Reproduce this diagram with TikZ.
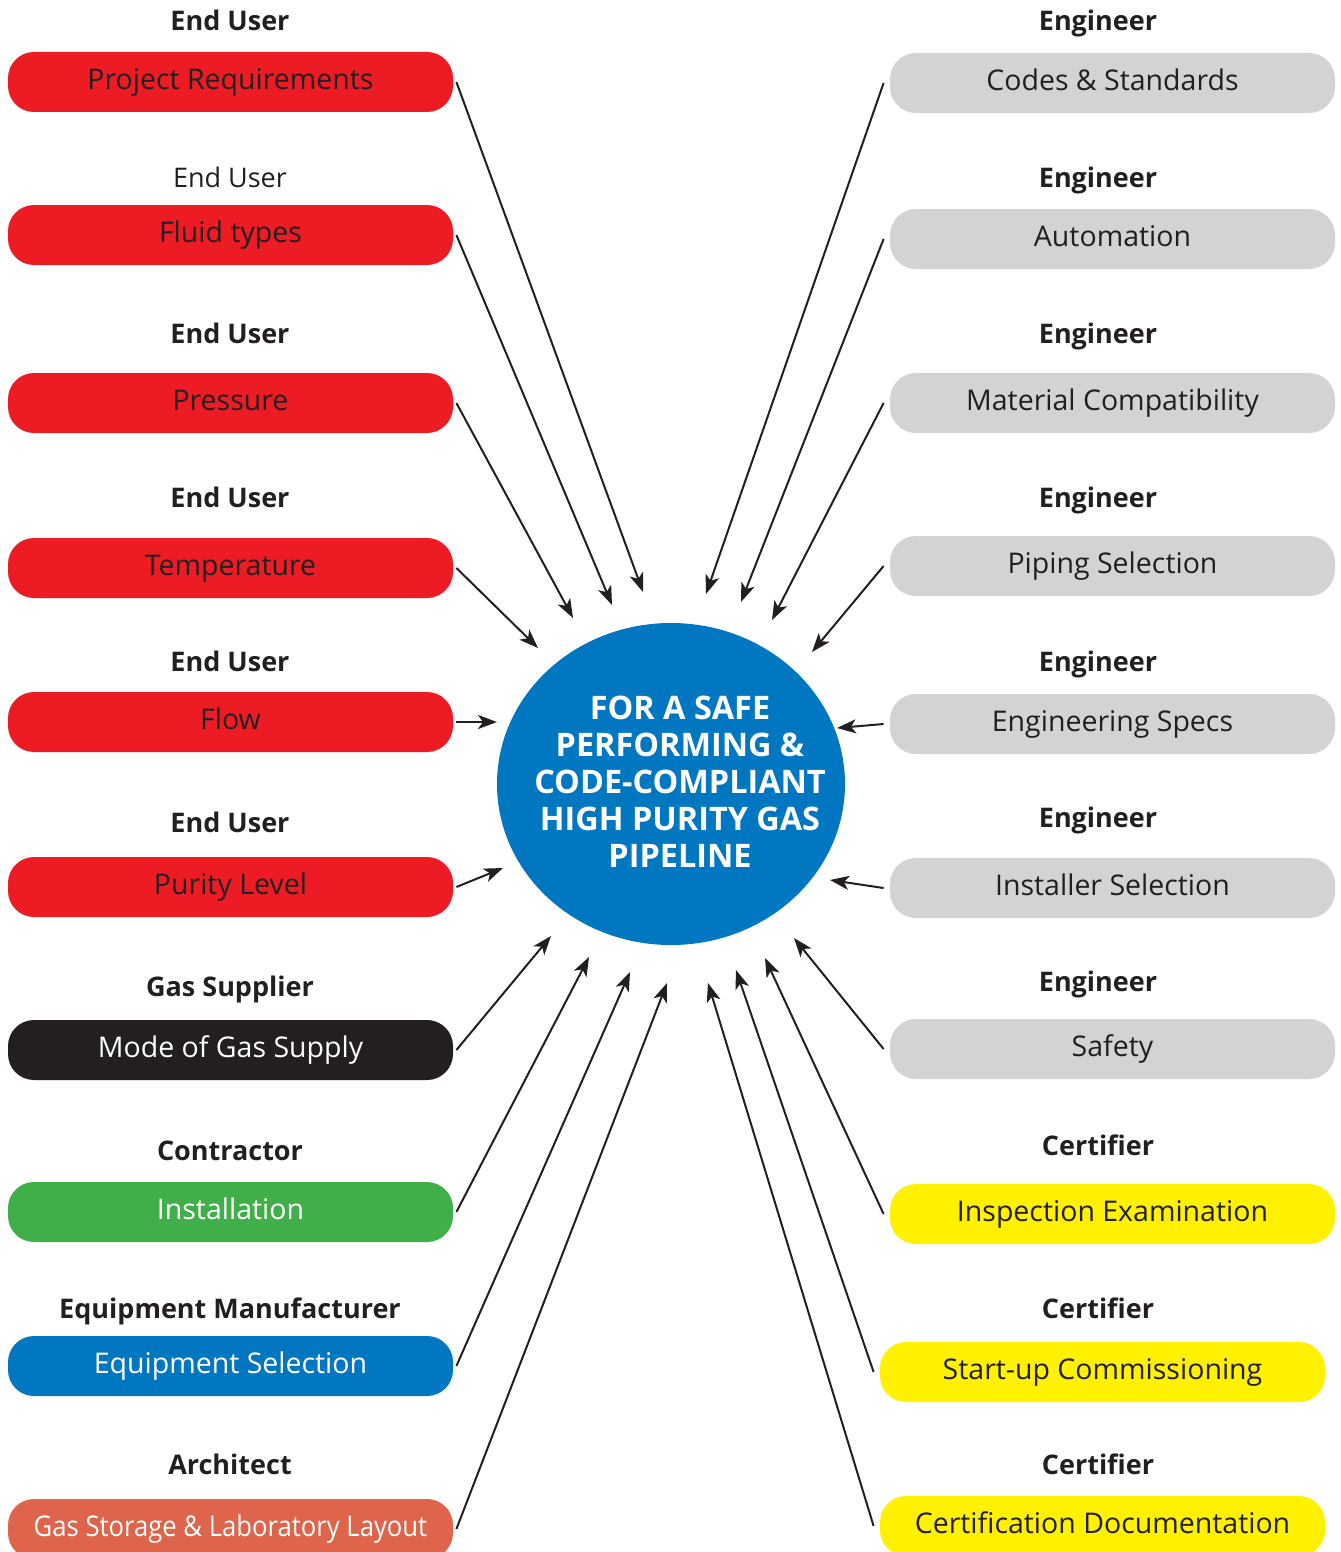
\documentclass[tikz,border=0pt]{standalone}
\usepackage{fontspec}
\setmainfont{Open Sans}
\newfontfamily\narrowfont[FakeStretch=0.9]{Open Sans}
\usetikzlibrary{shapes.geometric,arrows.meta,positioning}

\definecolor{userred}{HTML}{ED1C24}
\definecolor{enggrey}{HTML}{D1D3D4}
\definecolor{inkblack}{HTML}{231F20}
\definecolor{contgreen}{HTML}{40AE49}
\definecolor{pipeblue}{HTML}{0077C0}
\definecolor{archorange}{HTML}{DE644B}
\definecolor{certyellow}{HTML}{FFF100}

\begin{document}
\begin{tikzpicture}[
    x=0.5pt, y=-0.5pt,
    task/.style={rectangle, rounded corners=13pt, minimum width=222.5pt, minimum height=30pt, inner sep=0pt, text height=10.5pt, text depth=3pt, font=\fontsize{14.25}{17}\selectfont, text=inkblack},
    role/.style={text height=10pt, text depth=3pt, font=\bfseries\fontsize{13.5}{16}\selectfont, text=inkblack},
    hub/.style={ellipse, fill=pipeblue, minimum width=174pt, minimum height=161pt, inner sep=0pt},
    arrow/.style={line width=1pt, draw=inkblack, -{Stealth[length=9.5pt, width=7pt, inset=2.5pt]}}
]
\useasboundingbox (0,0) rectangle (1340,1552);

% Centre
\node (hub) [hub] at (671,784) {};
\node (hubtext) [align=center, text=white, font=\bfseries\fontsize{16.2}{18.5}\selectfont] at (680,782)
    {FOR A SAFE\\PERFORMING \&\\CODE-COMPLIANT\\HIGH PURITY GAS\\PIPELINE};

% Left column
\node (req-role) [role] at (230,24) {End User};
\node (req) [task, fill=userred] at (230.5,82) {Project Requirements};
\node (fluid-role) [role, font=\fontsize{13.5}{16}\selectfont] at (230,180) {End User};
\node (fluid) [task, fill=userred] at (230.5,235) {Fluid types};
\node (press-role) [role] at (230,336) {End User};
\node (press) [task, fill=userred] at (230.5,403) {Pressure};
\node (temp-role) [role] at (230,500) {End User};
\node (temp) [task, fill=userred] at (230.5,568) {Temperature};
\node (flow-role) [role] at (230,664) {End User};
\node (flow) [task, fill=userred] at (230.5,722) {Flow};
\node (purity-role) [role] at (230,825) {End User};
\node (purity) [task, fill=userred] at (230.5,887) {Purity Level};
\node (supply-role) [role] at (230,989) {Gas Supplier};
\node (supply) [task, fill=inkblack, text=white] at (230.5,1050) {Mode of Gas Supply};
\node (install-role) [role] at (230,1153) {Contractor};
\node (install) [task, fill=contgreen, text=white] at (230.5,1212) {Installation};
\node (equip-role) [role] at (230,1311) {Equipment Manufacturer};
\node (equip) [task, fill=pipeblue, text=white] at (230.5,1366) {Equipment Selection};
\node (layout-role) [role] at (230,1467) {Architect};
\node (layout) [task, fill=archorange, text=white, font=\narrowfont\fontsize{14.25}{17}\selectfont] at (230.5,1529) {Gas Storage \& Laboratory Layout};

% Right column
\node (codes-role) [role] at (1098,24) {Engineer};
\node (codes) [task, fill=enggrey] at (1112.5,83) {Codes \& Standards};
\node (auto-role) [role] at (1098,180) {Engineer};
\node (auto) [task, fill=enggrey] at (1112.5,239) {Automation};
\node (material-role) [role] at (1098,336) {Engineer};
\node (material) [task, fill=enggrey] at (1112.5,403) {Material Compatibility};
\node (piping-role) [role] at (1098,500) {Engineer};
\node (piping) [task, fill=enggrey] at (1112.5,566) {Piping Selection};
\node (specs-role) [role] at (1098,664) {Engineer};
\node (specs) [task, fill=enggrey] at (1112.5,724) {Engineering Specs};
\node (installer-role) [role] at (1098,820) {Engineer};
\node (installer) [task, fill=enggrey] at (1112.5,888) {Installer Selection};
\node (safety-role) [role] at (1098,984) {Engineer};
\node (safety) [task, fill=enggrey] at (1112.5,1049) {Safety};
\node (inspect-role) [role] at (1098,1148) {Certifier};
\node (inspect) [task, fill=certyellow] at (1112.5,1214) {Inspection Examination};
\node (startup-role) [role] at (1098,1311) {Certifier};
\node (startup) [task, fill=certyellow] at (1102.5,1372) {Start-up Commissioning};
\node (certdoc-role) [role] at (1098,1467) {Certifier};
\node (certdoc) [task, fill=certyellow] at (1102.5,1526) {Certification Documentation};

% Arrows into the hub
\foreach \n/\x/\y in {req/643/592, fluid/612/605, press/573/618, temp/538/648, flow/497/722,
    purity/503/868, supply/551/936, install/589/957, equip/630/972, layout/667/983}
{
    \coordinate (\n-tip) at (\x,\y);
    \draw [arrow] ([xshift=1.5pt]\n.east) -- (\n-tip);
}
\foreach \n/\x/\y in {codes/706/594, auto/741/602, material/772/620, piping/812/652, specs/837/728,
    installer/830/880, safety/794/938, inspect/765/958, startup/736/970, certdoc/708/983}
{
    \coordinate (\n-tip) at (\x,\y);
    \draw [arrow] ([xshift=-3pt]\n.west) -- (\n-tip);
}

\end{tikzpicture}
\end{document}
